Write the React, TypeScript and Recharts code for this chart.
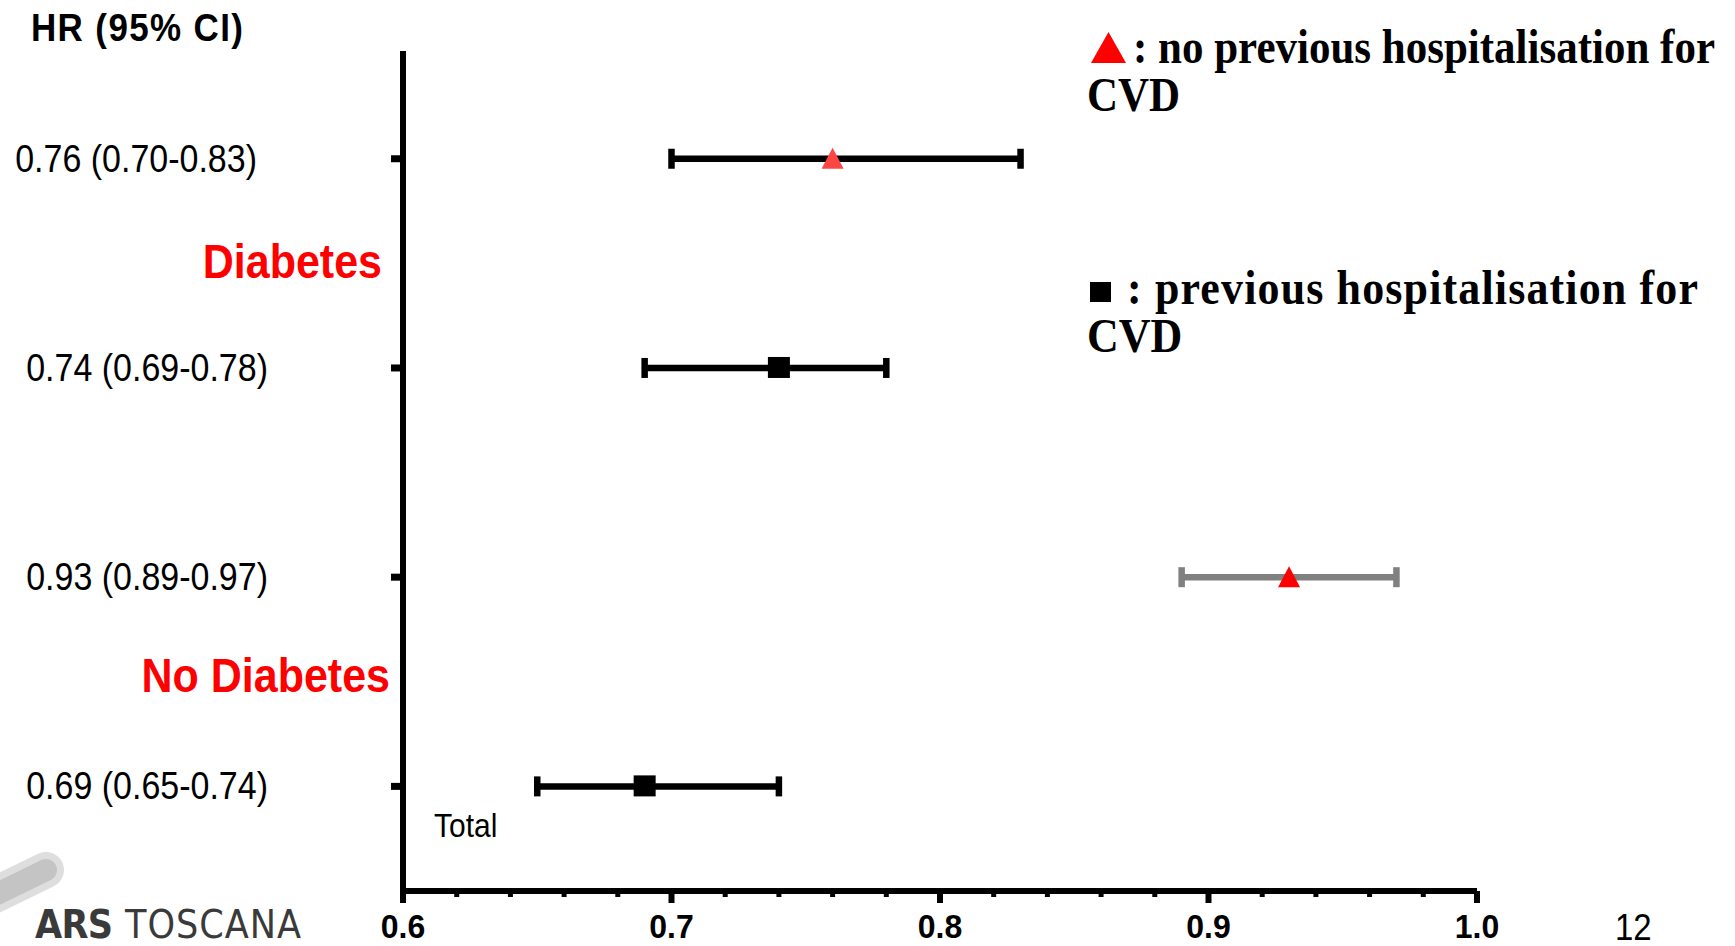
import React from 'react';
import { ScatterChart, Scatter, XAxis, YAxis, ErrorBar } from 'recharts';

// ---- data ----
const groups = ['Diabetes', 'No Diabetes'];
// no previous hospitalisation for CVD (triangles)
const hrNoPrev = [0.76, 0.93];
const lowNoPrev = [0.70, 0.89];
const highNoPrev = [0.83, 0.97];
// previous hospitalisation for CVD (squares)
const hrPrev = [0.74, 0.69];
const lowPrev = [0.69, 0.65];
const highPrev = [0.78, 0.74];
// row positions (top to bottom)
const rowNoPrev = [1, 3];
const rowPrev = [2, 4];
const groupRows = [1.5, 3.5];
const xTicks = [0.6, 0.62, 0.64, 0.66, 0.68, 0.7, 0.72, 0.74, 0.76, 0.78, 0.8, 0.82, 0.84, 0.86, 0.88, 0.9, 0.92, 0.94, 0.96, 0.98, 1.0];
const xMajor = [0.6, 0.7, 0.8, 0.9, 1.0];
const xMajorLabels = ['0.6', '0.7', '0.8', '0.9', '1.0'];
const yTicks = [1, 1.5, 2, 3, 3.5, 4];

const fmt = (v: number) => v.toFixed(2);
const makePoint = (hr: number, lo: number, hi: number, row: number) => ({
  x: hr,
  y: row,
  err: [hr - lo, hi - hr],
  label: `${fmt(hr)} (${fmt(lo)}-${fmt(hi)})`,
});
const diabNoPrev = [makePoint(hrNoPrev[0], lowNoPrev[0], highNoPrev[0], rowNoPrev[0])];
const noDiabNoPrev = [makePoint(hrNoPrev[1], lowNoPrev[1], highNoPrev[1], rowNoPrev[1])];
const prevData = hrPrev.map((h, i) => makePoint(h, lowPrev[i], highPrev[i], rowPrev[i]));
const allRows = [...diabNoPrev, ...noDiabNoPrev, ...prevData];
const rowLabel = (v: number) => {
  const r = allRows.find((p) => p.y === v);
  return r ? r.label : '';
};

const SANS = "'Liberation Sans', Arial, sans-serif";
const SERIF = "'Liberation Serif', 'Times New Roman', serif";
const SY = 1.12;

const SText = ({ x, y, sy = SY, children, ...rest }: any) => (
  <text transform={`translate(${x},${y}) scale(1,${sy})`} x={0} y={0} {...rest}>
    {children}
  </text>
);

const XTick = (props: any) => {
  const { x, y, payload } = props;
  const v = payload.value;
  const mi = xMajor.findIndex((m) => Math.abs(m - v) < 1e-9);
  if (mi >= 0) {
    return (
      <g>
        <line x1={x} x2={x} y1={y} y2={y + 12} stroke="#000" strokeWidth={6} />
        <SText x={x} y={y + 47} sy={1.05} textAnchor="middle" fontFamily={SANS} fontWeight="bold" fontSize={32} fill="#000">
          {xMajorLabels[mi]}
        </SText>
      </g>
    );
  }
  return <line x1={x} x2={x} y1={y} y2={y + 6} stroke="#000" strokeWidth={5} />;
};

const YTick = (props: any) => {
  const { x, y, payload } = props;
  const v = payload.value;
  const gi = groupRows.indexOf(v);
  if (gi >= 0) {
    return (
      <SText x={gi === 0 ? x - 21 : x - 13} y={gi === 0 ? y + 15 : y + 10} textAnchor="end" fontFamily={SANS} fontWeight="bold" fontSize={43} fill="#ff0000">
        {groups[gi]}
      </SText>
    );
  }
  return (
    <g>
      <line x1={x - 12} x2={x} y1={y} y2={y} stroke="#000" strokeWidth={7} />
      <SText x={v === 1 ? x - 146 : x - 135} y={y + 13} textAnchor="end" fontFamily={SANS} fontSize={34} fill="#000">
        {rowLabel(v)}
      </SText>
    </g>
  );
};

const Triangle = (color: string) => (p: any) => {
  const { cx, cy } = p;
  return <polygon points={`${cx - 11},${cy + 10} ${cx + 11},${cy + 10} ${cx},${cy - 11}`} fill={color} />;
};
const Square = (p: any) => {
  const { cx, cy } = p;
  return <rect x={cx - 11} y={cy - 11} width={22} height={21} fill="#000" />;
};

export default function App() {
  return (
    <div style={{ position: 'absolute', left: 0, top: 0, width: 1735, height: 946, background: '#fff', overflow: 'hidden' }}>
      <ScatterChart width={1735} height={946} margin={{ top: 51, right: 258, bottom: 0, left: 0 }}>
        <XAxis
          type="number"
          dataKey="x"
          domain={[0.6, 1.0]}
          ticks={xTicks}
          interval={0}
          allowDataOverflow
          height={55}
          tickLine={false}
          tickSize={0}
          tickMargin={0}
          axisLine={{ stroke: '#000', strokeWidth: 6 }}
          tick={(p: any) => <XTick {...p} />}
        />
        <YAxis
          type="number"
          dataKey="y"
          domain={[0.485, 4.5]}
          reversed
          ticks={yTicks}
          interval={0}
          allowDataOverflow
          width={403}
          tickLine={false}
          tickSize={0}
          tickMargin={0}
          axisLine={{ stroke: '#000', strokeWidth: 6 }}
          tick={(p: any) => <YTick {...p} />}
        />
        <Scatter data={diabNoPrev} isAnimationActive={false} shape={Triangle('#ff4444')}>
          <ErrorBar dataKey="err" direction="x" width={10} strokeWidth={6.5} stroke="#000" />
        </Scatter>
        <Scatter data={noDiabNoPrev} isAnimationActive={false} shape={Triangle('#ff0000')}>
          <ErrorBar dataKey="err" direction="x" width={10} strokeWidth={6.5} stroke="#808080" />
        </Scatter>
        <Scatter data={prevData} isAnimationActive={false} shape={Square}>
          <ErrorBar dataKey="err" direction="x" width={10} strokeWidth={6.5} stroke="#000" />
        </Scatter>
      </ScatterChart>
      <svg width={1735} height={946} style={{ position: 'absolute', left: 0, top: 0, pointerEvents: 'none' }}>
        {/* title */}
        <SText x={31} y={41} fontFamily={SANS} fontWeight="bold" fontSize={35} textLength={212} fill="#000">
          HR (95% CI)
        </SText>
        {/* legend */}
        <polygon points="1091,63 1126,63 1108.5,32" fill="#ff0000" />
        <SText x={1133} y={63} fontFamily={SERIF} fontWeight="bold" fontSize={43} textLength={582} fill="#000">
          : no previous hospitalisation for
        </SText>
        <SText x={1087} y={111} fontFamily={SERIF} fontWeight="bold" fontSize={43} fill="#000">
          CVD
        </SText>
        <rect x={1090} y={282} width={21} height={20} fill="#000" />
        <SText x={1127} y={304} fontFamily={SERIF} fontWeight="bold" fontSize={44} textLength={571} fill="#000">
          : previous hospitalisation for
        </SText>
        <SText x={1087} y={352} fontFamily={SERIF} fontWeight="bold" fontSize={44} fill="#000">
          CVD
        </SText>
        {/* Total */}
        <SText x={434} y={837} fontFamily={SANS} fontSize={30} fill="#000">
          Total
        </SText>
        {/* page number */}
        <SText x={1615} y={940} fontFamily={SANS} fontSize={33} fill="#000">
          12
        </SText>
        {/* logo */}
        <line x1={-30} y1={907} x2={46} y2={870} stroke="#dedede" strokeWidth={36} strokeLinecap="round" />
        <line x1={-30} y1={907} x2={46} y2={870} stroke="#c4c4c4" strokeWidth={22} strokeLinecap="round" />
        <text x={35} y={938} fontFamily="'DejaVu Sans Condensed', 'DejaVu Sans', sans-serif" fontStretch="condensed" fontWeight="bold" fontSize={39} textLength={78} fill="#3a3a3a">
          ARS
        </text>
        <text x={125} y={938} fontFamily="'DejaVu Sans Condensed', 'DejaVu Sans', sans-serif" fontStretch="condensed" fontSize={39} textLength={176} fill="#3a3a3a">
          TOSCANA
        </text>
      </svg>
    </div>
  );
}
